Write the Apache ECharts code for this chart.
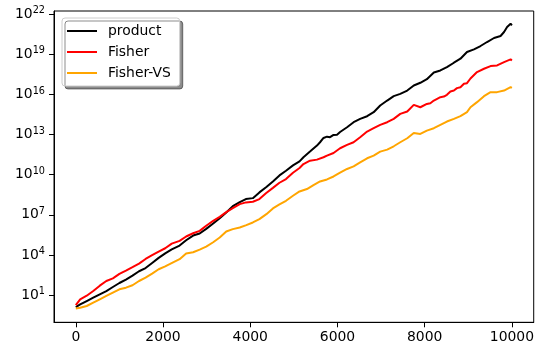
<!DOCTYPE html>
<html><head><meta charset="utf-8">
<script src="https://cdn.jsdelivr.net/npm/echarts@6/dist/echarts.min.js"></script>
<style>html,body{margin:0;padding:0;background:#fff}#c{width:537px;height:345px}</style>
</head><body><div id="c"></div><script>
// Data. Y values are stored as log10 (exponent) of the plotted quantity.
const seriesNames = ['product', 'Fisher', 'Fisher-VS'];
const seriesColors = ['#000000', '#ff0000', '#ffa500'];

const productX = [0,100,250,400,550,700,850,1000,1150,1300,1450,1600,1750,1900,2050,2200,2380,2530,2690,2840,2990,3150,3300,3450,3600,3760,3900,4060,4210,4370,4520,4670,4820,4980,5130,5220,5370,5530,5600,5680,5760,5830,5910,5990,6060,6220,6370,6520,6680,6830,6980,7140,7290,7440,7600,7750,7900,8050,8210,8360,8510,8670,8820,8970,9130,9280,9430,9590,9740,9820,9890,9970,10000];
const productExp = [0.10,0.30,0.55,0.80,1.05,1.30,1.60,1.90,2.15,2.45,2.78,3.02,3.40,3.78,4.12,4.42,4.70,5.10,5.45,5.60,5.95,6.35,6.75,7.18,7.65,7.95,8.18,8.25,8.68,9.08,9.50,9.95,10.30,10.70,11.00,11.31,11.73,12.18,12.43,12.75,12.85,12.81,12.98,13.00,13.20,13.55,13.93,14.18,14.38,14.68,15.18,15.55,15.88,16.05,16.30,16.68,16.88,17.15,17.65,17.80,18.05,18.38,18.68,19.18,19.38,19.63,19.93,20.23,20.38,20.68,21.05,21.30,21.18];

const fisherX = [0,100,250,400,550,700,850,1000,1150,1300,1450,1600,1750,1900,2050,2200,2380,2530,2690,2840,2990,3150,3300,3450,3600,3760,3900,4060,4210,4360,4520,4670,4820,4980,5130,5220,5370,5530,5680,5760,5910,6060,6220,6370,6520,6680,6830,6980,7140,7290,7440,7600,7750,7900,8050,8130,8210,8360,8440,8510,8590,8670,8740,8820,8900,8970,9050,9200,9360,9510,9660,9820,9970,10000];
const fisherExp = [0.25,0.68,0.95,1.30,1.70,2.05,2.25,2.58,2.82,3.08,3.35,3.70,3.98,4.25,4.50,4.85,5.05,5.38,5.62,5.80,6.18,6.55,6.85,7.20,7.50,7.80,7.93,7.98,8.18,8.62,9.02,9.40,9.68,10.15,10.50,10.80,11.05,11.13,11.31,11.43,11.63,11.98,12.23,12.43,12.80,13.23,13.48,13.73,13.93,14.18,14.55,14.73,15.23,15.05,15.30,15.35,15.55,15.80,15.85,15.98,16.23,16.30,16.48,16.55,16.80,16.85,17.20,17.68,17.93,18.13,18.18,18.43,18.63,18.55];

const fisherVsX = [0,100,250,400,550,700,850,1000,1150,1300,1450,1600,1750,1900,2050,2150,2380,2530,2690,2840,2990,3150,3300,3450,3600,3760,3910,4060,4210,4370,4520,4670,4820,4980,5130,5300,5450,5600,5760,5910,6060,6220,6370,6520,6680,6830,6980,7140,7290,7440,7600,7750,7900,8050,8210,8360,8510,8670,8820,8970,9050,9200,9360,9510,9660,9820,9970,10000];
const fisherVsExp = [0.00,0.05,0.18,0.43,0.68,0.93,1.18,1.43,1.55,1.73,2.05,2.30,2.60,2.93,3.15,3.31,3.68,4.10,4.20,4.40,4.62,4.95,5.30,5.75,5.93,6.05,6.23,6.43,6.68,7.05,7.48,7.78,8.05,8.43,8.75,8.93,9.23,9.50,9.65,9.87,10.15,10.43,10.63,10.93,11.23,11.43,11.73,11.88,12.13,12.43,12.73,13.13,13.05,13.30,13.48,13.73,13.98,14.18,14.38,14.68,15.05,15.43,15.88,16.18,16.18,16.30,16.55,16.50];

const xTickLabels = [0, 2000, 4000, 6000, 8000, 10000];
const yTickExponents = [1, 4, 7, 10, 13, 16, 19, 22];

const FONT = 'DejaVu Sans';
const pairs = (xs, ys) => xs.map((x, i) => [x, ys[i]]);
const allX = [productX, fisherX, fisherVsX];
const allY = [productExp, fisherExp, fisherVsExp];

const chart = echarts.init(document.getElementById('c'), null, {renderer: 'canvas'});
chart.setOption({
  animation: false,
  backgroundColor: '#fff',
  grid: {left: 54, right: 2.5, top: 11, bottom: 22.7, show: true, borderColor: '#000', borderWidth: 1, backgroundColor: 'transparent'},
  xAxis: {
    type: 'value', min: -500, max: 10500,
    axisLine: {show: true, onZero: false, lineStyle: {color: '#000', width: 1}},
    axisTick: {show: true, length: 5, inside: false, customValues: xTickLabels, lineStyle: {color: '#000', width: 1}},
    axisLabel: {customValues: xTickLabels, margin: 8, color: '#000', fontFamily: FONT, fontSize: 13.9, formatter: v => String(v)},
    splitLine: {show: false}
  },
  yAxis: {
    type: 'value', min: -1.04, max: 22.25,
    axisLine: {show: true, onZero: false, lineStyle: {color: '#000', width: 1}},
    axisTick: {show: true, length: 5, inside: false, customValues: yTickExponents, lineStyle: {color: '#000', width: 1}},
    axisLabel: {
      customValues: yTickExponents, margin: 9, color: '#000',
      formatter: v => '{b|10}{s|' + v + '}',
      rich: {
        b: {fontFamily: FONT, fontSize: 13.9, color: '#000'},
        s: {fontFamily: FONT, fontSize: 9.7, color: '#000', padding: [0, 0, 7, 0]}
      }
    },
    splitLine: {show: false}
  },
  legend: {
    orient: 'vertical', left: 62, top: 18,
    padding: [5, 9, 5, 5], itemWidth: 30, itemHeight: 2, itemGap: 5,
    icon: 'rect',
    backgroundColor: '#fff', borderColor: '#cccccc', borderWidth: 1, borderRadius: 3,
    shadowColor: 'rgba(0,0,0,0.45)', shadowOffsetX: 3, shadowOffsetY: 3, shadowBlur: 0,
    textStyle: {fontFamily: FONT, fontSize: 13.9, color: '#000', padding: [0, 0, 0, 6], lineHeight: 16},
    data: seriesNames
  },
  series: seriesNames.map((name, i) => ({
    name, type: 'line', symbol: 'none', showSymbol: false,
    data: pairs(allX[i], allY[i]),
    lineStyle: {color: seriesColors[i], width: 2},
    itemStyle: {color: seriesColors[i]},
    clip: true
  }))
});
</script></body></html>
